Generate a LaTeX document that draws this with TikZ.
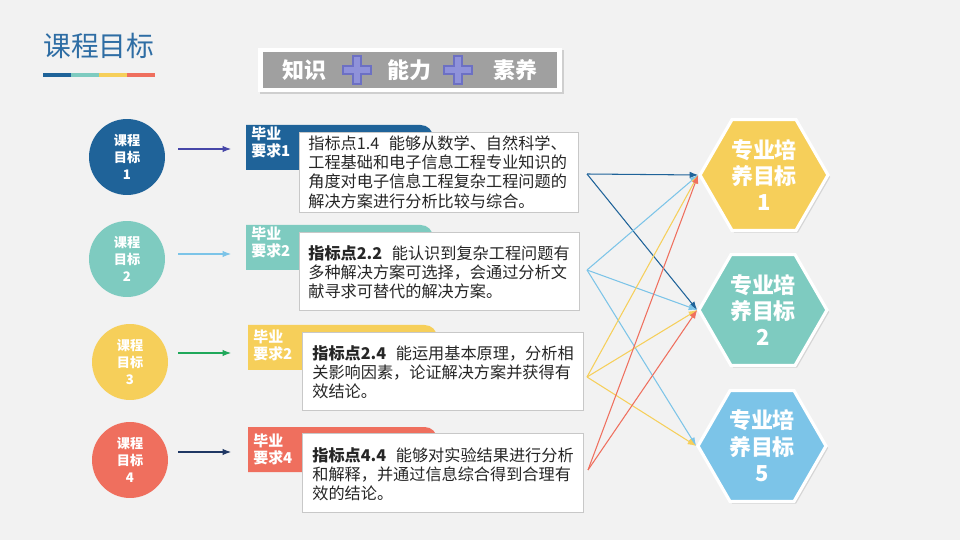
\documentclass[tikz,border=0pt]{standalone}
\usepackage{fontspec}
\setmainfont{Noto Sans CJK SC}
\usetikzlibrary{arrows.meta,shapes.geometric,shadows}
\definecolor{bg}{HTML}{F2F2F2}
\definecolor{blau}{HTML}{1F6399}
\definecolor{tuerkis}{HTML}{7ECBC0}
\definecolor{gelb}{HTML}{F6CF5A}
\definecolor{koralle}{HTML}{EF6F5E}
\definecolor{hblau}{HTML}{7CC4E8}
\definecolor{titel}{HTML}{2E6DA4}
\definecolor{grau}{HTML}{A0A0A0}
\definecolor{rahmen}{HTML}{C8C8C8}
\definecolor{schrift}{HTML}{262626}
\definecolor{lila}{HTML}{8F92DA}
\definecolor{lilad}{HTML}{6C70C4}
\definecolor{indigo}{HTML}{4646A8}
\definecolor{gruen}{HTML}{1FA85A}
\definecolor{navy}{HTML}{1F3864}
\tikzset{
  kreis/.style={circle,minimum size=1.52cm,inner sep=0,text=white,align=center,
    font=\bfseries\fontsize{7.5}{9.5}\selectfont},
  lasche/.style={anchor=north west,inner sep=0,text=white,align=left,
    font=\bfseries\fontsize{8.5}{9.2}\selectfont},
  kasten/.style={fill=white,draw=rahmen,line width=0.5pt},
  txt/.style={anchor=north west,inner sep=0,text=schrift,align=left,
    font=\fontsize{9.2}{11}\selectfont},
  ziel/.style={regular polygon,regular polygon sides=6,minimum size=2.56cm,inner sep=0,
    draw=white,line width=1.8pt,text=white,align=center,
    font=\bfseries\fontsize{12.5}{15}\selectfont,
    drop shadow={opacity=0.25,shadow xshift=1.2pt,shadow yshift=-1.2pt}},
  pfeil/.style={-{Latex[length=1.7mm,width=1.3mm]},line width=0.6pt},
  bann/.style={text=white,font=\bfseries\fontsize{12.5}{14}\selectfont},
}

\begin{document}
\begin{tikzpicture}[x=0.02cm,y=-0.02cm]
  \fill[bg] (0,0) rectangle (960,540);
  \node[anchor=west,inner sep=0,text=titel,font=\fontsize{15.8}{17}\selectfont] (kopf) at (43,46) {课程目标};
  \foreach \c [count=\i] in {blau,tuerkis,gelb,koralle}
    \fill[\c] ({15+28*\i},73) rectangle ({43+28*\i},77);

  \fill[white,drop shadow={opacity=0.3,shadow xshift=1pt,shadow yshift=-1.2pt}] (258,48) rectangle (562,92);
  \fill[grau] (263,52) rectangle (557,88);
  \node[bann] (wissen) at (304,70) {知识};
  \node[bann] (koennen) at (409,70) {能力};
  \node[bann] (haltung) at (515,70) {素养};
  \foreach \x in {357,458}
    \filldraw[fill=lila,draw=lilad,line width=0.6pt,shift={(\x,70)}]
      (-4,-14) -- (4,-14) -- (4,-4) -- (14,-4) -- (14,4) -- (4,4) -- (4,14)
      -- (-4,14) -- (-4,4) -- (-14,4) -- (-14,-4) -- (-4,-4) -- cycle;

  \node[kreis,fill=blau] (k1) at (127,157) {课程\\目标\\1};
  \node[kreis,fill=tuerkis] (k2) at (127,259) {课程\\目标\\2};
  \node[kreis,fill=gelb] (k3) at (130,362) {课程\\目标\\3};
  \node[kreis,fill=koralle] (k4) at (130,460) {课程\\目标\\4};

  \fill[blau] (246,170) -- (246,125) [rounded corners=7pt] -- (433,125) -- (433,170) [sharp corners] -- cycle;
  \fill[tuerkis] (246,270) -- (246,225) [rounded corners=7pt] -- (433,225) -- (433,270) [sharp corners] -- cycle;
  \fill[gelb] (248,370) -- (248,325) [rounded corners=7pt] -- (437,325) -- (437,370) [sharp corners] -- cycle;
  \fill[koralle] (248,472) -- (248,427) [rounded corners=7pt] -- (437,427) -- (437,472) [sharp corners] -- cycle;
  \node[lasche] (r1) at (251,127) {毕业\\要求1};
  \node[lasche] (r2) at (251,227) {毕业\\要求2};
  \node[lasche] (r3) at (253,330) {毕业\\要求2};
  \node[lasche] (r4) at (253,434) {毕业\\要求4};

  \coordinate (t1) at (246,149);
  \coordinate (t2) at (246,254);
  \coordinate (t3) at (248,353);
  \coordinate (t4) at (248,452);
  \draw[pfeil,indigo,shorten <=0.26cm,shorten >=0.3cm] (k1.east |- t1) -- (t1);
  \draw[pfeil,hblau,shorten <=0.26cm,shorten >=0.3cm] (k2.east |- t2) -- (t2);
  \draw[pfeil,gruen,shorten <=0.2cm,shorten >=0.34cm] (k3.east |- t3) -- (t3);
  \draw[pfeil,navy,shorten <=0.2cm,shorten >=0.34cm] (k4.east |- t4) -- (t4);

  \draw[kasten] (299,132) rectangle (578,212);
  \draw[kasten] (299,232) rectangle (579,310);
  \draw[kasten] (302,332) rectangle (583,410);
  \draw[kasten] (302,433) rectangle (583,512);
  \node[txt] (p1) at (308,135) {指标点1.4\hspace{0.6em}能够从数学、自然科学、\\工程基础和电子信息工程专业知识的\\角度对电子信息工程复杂工程问题的\\解决方案进行分析比较与综合。};
  \node[txt] (p2) at (308,245) {\textbf{指标点2.2}\hspace{0.6em}能认识到复杂工程问题有\\多种解决方案可选择，会通过分析文\\献寻求可替代的解决方案。};
  \node[txt] (p3) at (312,345) {\textbf{指标点2.4}\hspace{0.6em}能运用基本原理，分析相\\关影响因素，论证解决方案并获得有\\效结论。};
  \node[txt] (p4) at (312,447) {\textbf{指标点4.4}\hspace{0.6em}能够对实验结果进行分析\\和解释，并通过信息综合得到合理有\\效的结论。};

  \node[ziel,fill=gelb] (h1) at (764,175) {专业培\\养目标\\1};
  \node[ziel,fill=tuerkis] (h2) at (763,310) {专业培\\养目标\\2};
  \node[ziel,fill=hblau] (h5) at (762,446) {专业培\\养目标\\5};

  \coordinate (s1) at (587,174);
  \coordinate (s2) at (587,270);
  \coordinate (s3) at (587,377);
  \coordinate (s4) at (588,470);
  \draw[pfeil,blau] (s1) -- (h1.west);
  \draw[pfeil,blau] (s1) -- (h2.west);
  \foreach \h in {h1,h2,h5} \draw[pfeil,hblau] (s2) -- (\h.west);
  \foreach \h in {h1,h2,h5} \draw[pfeil,gelb] (s3) -- (\h.west);
  \foreach \h in {h1,h2} \draw[pfeil,koralle] (s4) -- (\h.west);
\end{tikzpicture}
\end{document}
